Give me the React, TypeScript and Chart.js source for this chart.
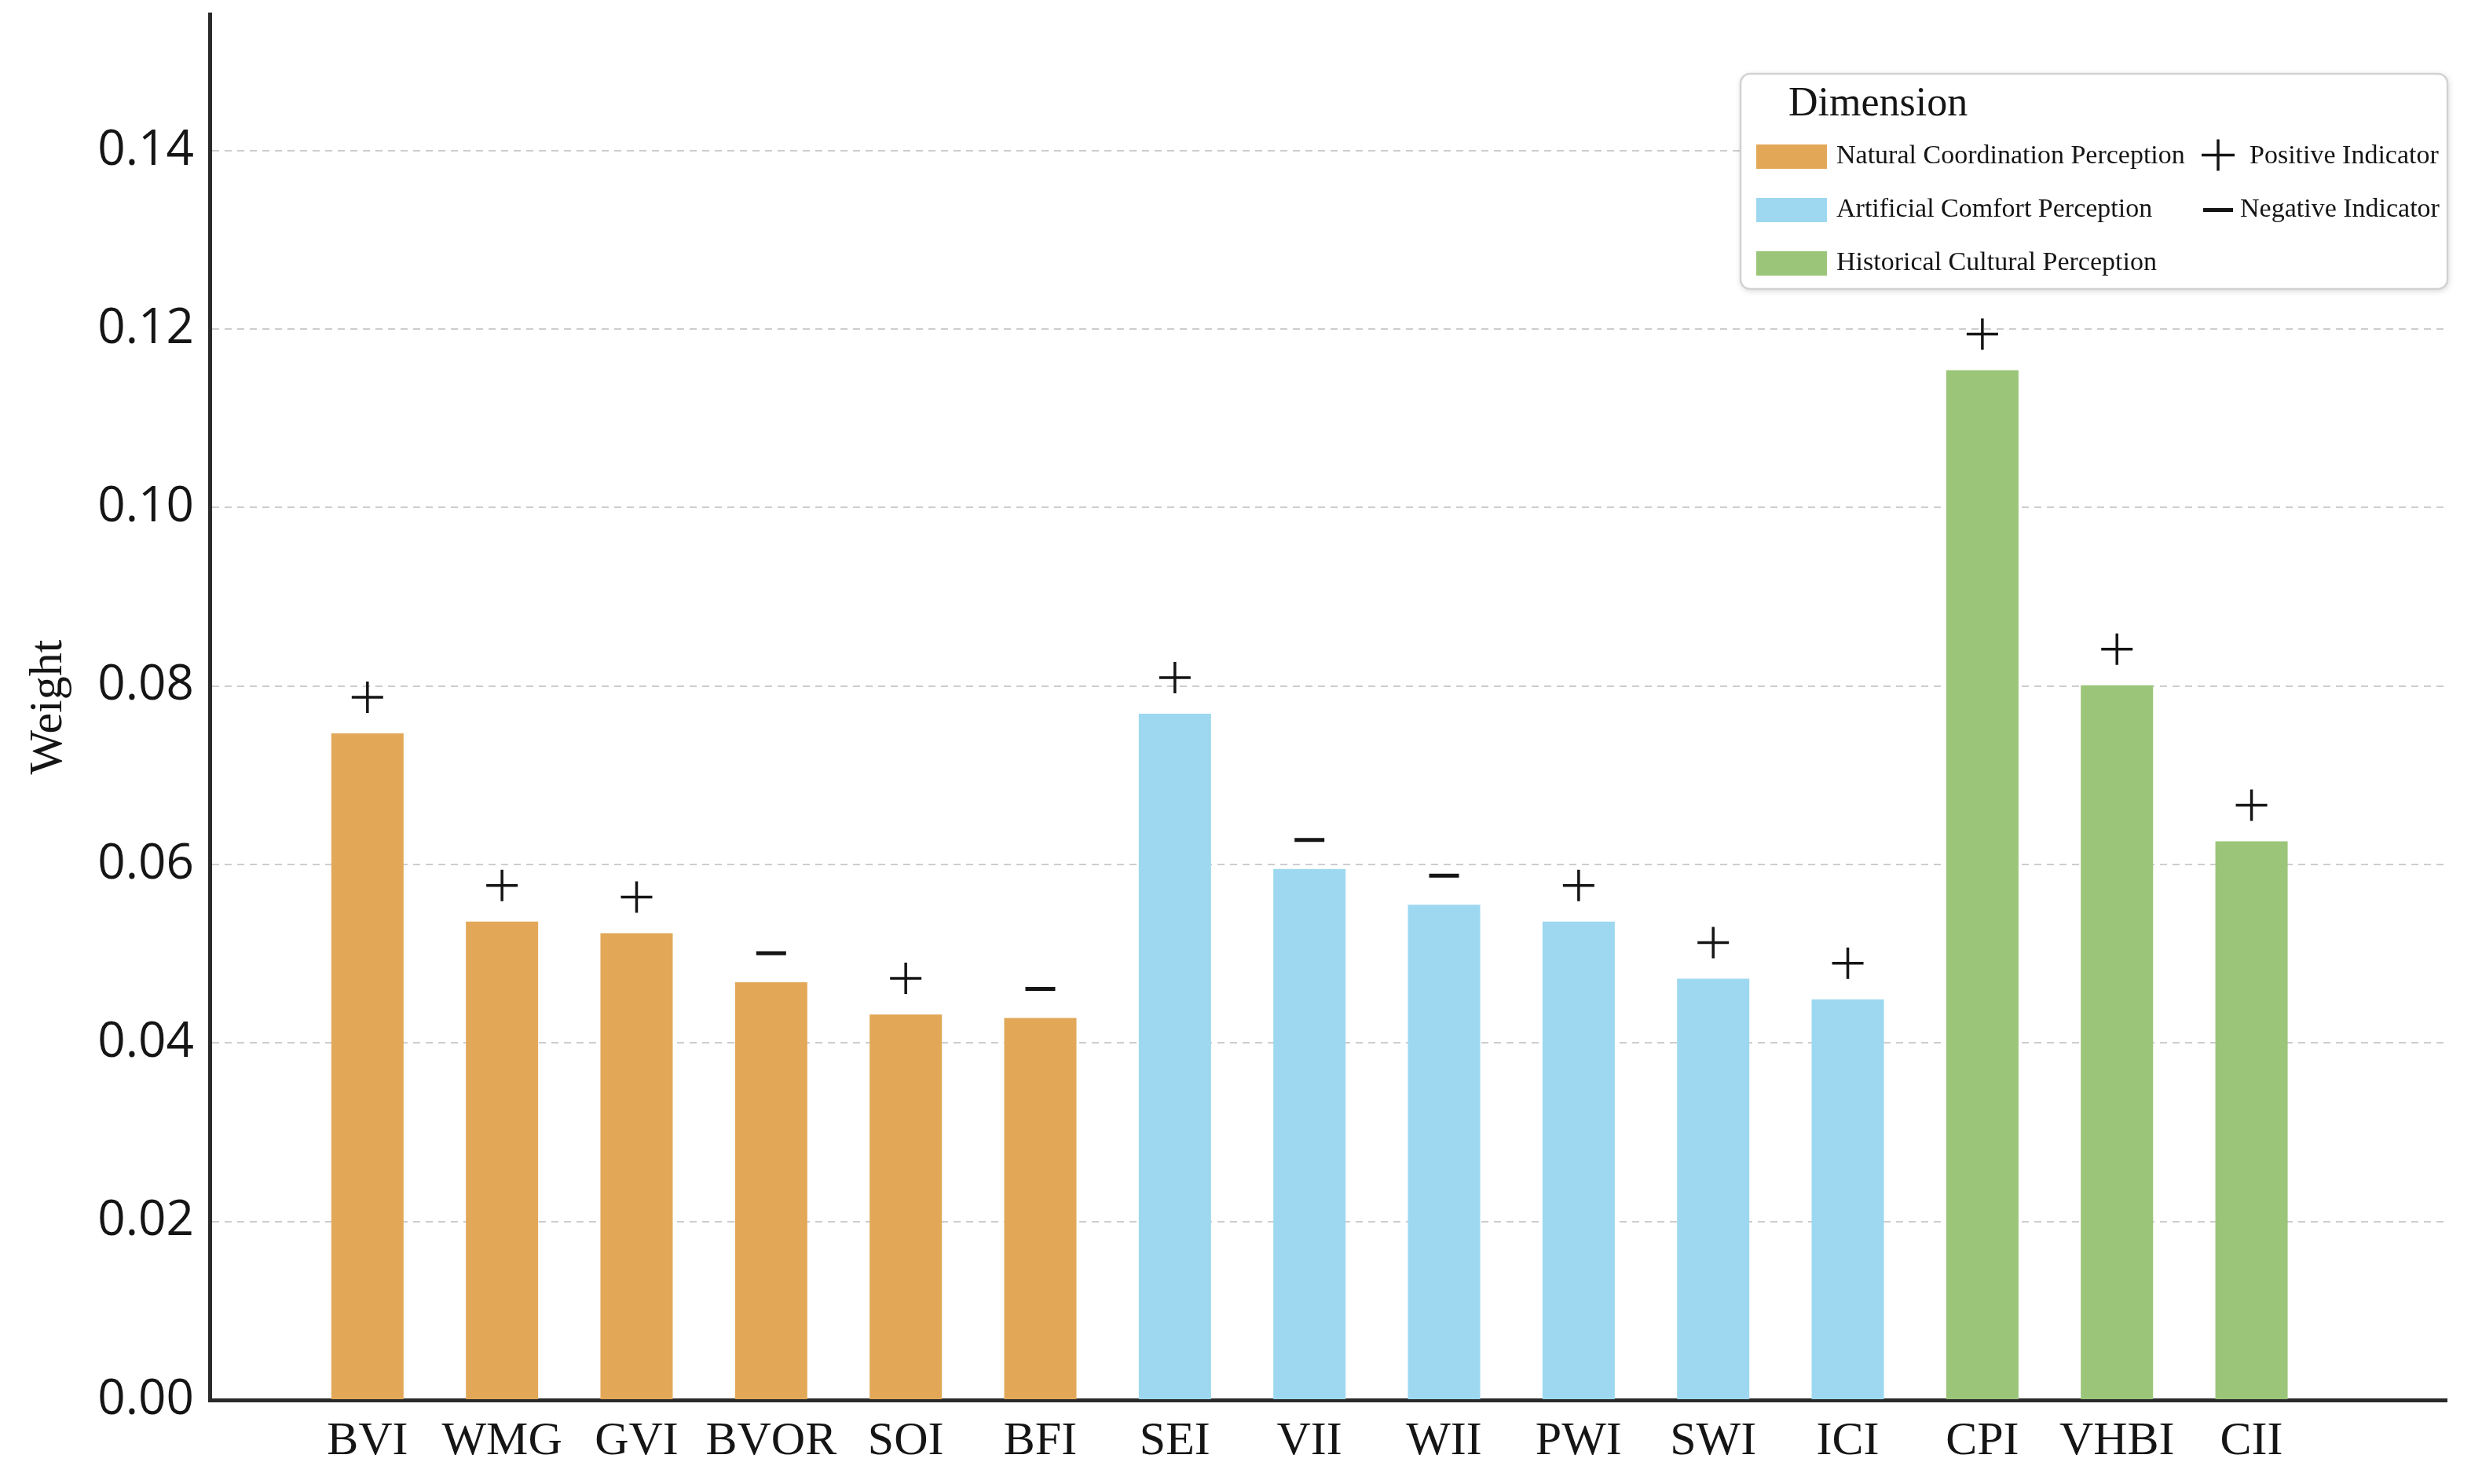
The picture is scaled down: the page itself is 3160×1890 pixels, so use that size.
import { useEffect, useRef } from 'react';
import { Chart, registerables } from 'chart.js';

Chart.register(...registerables);

// ---- data ----
const categories = ['BVI', 'WMG', 'GVI', 'BVOR', 'SOI', 'BFI', 'SEI', 'VII', 'WII', 'PWI', 'SWI', 'ICI', 'CPI', 'VHBI', 'CII'];
const weights = [0.0747, 0.0536, 0.0523, 0.0468, 0.0432, 0.0428, 0.0769, 0.0595, 0.0555, 0.0536, 0.0472, 0.0449, 0.1154, 0.0801, 0.0626];
const dimensionOf = [0, 0, 0, 0, 0, 0, 1, 1, 1, 1, 1, 1, 2, 2, 2];
const indicatorSign = ['+', '+', '+', '-', '+', '-', '+', '-', '-', '+', '+', '+', '+', '+', '+'];
const dimensionNames = ['Natural Coordination Perception', 'Artificial Comfort Perception', 'Historical Cultural Perception'];
const dimensionColors = ['#E2A858', '#9DD8F0', '#9BC578'];
const indicatorNames = ['Positive Indicator', 'Negative Indicator'];
const yTicks = [0, 0.02, 0.04, 0.06, 0.08, 0.1, 0.12, 0.14];
const legendTitle = 'Dimension';
const yTitle = 'Weight';

const SERIF = '"Liberation Serif", "Times New Roman", serif';
const SANS = '"Open Sans", "Noto Sans", sans-serif';
const INK = '#151515';

function drawPlus(ctx: CanvasRenderingContext2D, x: number, y: number, hw: number, hh: number, lw: number) {
  ctx.lineWidth = lw;
  ctx.beginPath();
  ctx.moveTo(x - hw, y);
  ctx.lineTo(x + hw, y);
  ctx.moveTo(x, y - hh);
  ctx.lineTo(x, y + hh);
  ctx.stroke();
}

function drawMinus(ctx: CanvasRenderingContext2D, x: number, y: number, hw: number, lw: number) {
  ctx.lineWidth = lw;
  ctx.beginPath();
  ctx.moveTo(x - hw, y);
  ctx.lineTo(x + hw, y);
  ctx.stroke();
}

const signPlugin = {
  id: 'signMarks',
  afterDatasetsDraw(chart: any) {
    const ctx = chart.ctx as CanvasRenderingContext2D;
    const meta = chart.getDatasetMeta(0);
    ctx.save();
    ctx.strokeStyle = INK;
    ctx.lineCap = 'butt';
    meta.data.forEach((bar: any, i: number) => {
      const { x, y } = bar.getProps(['x', 'y'], true);
      if (indicatorSign[i] === '+') drawPlus(ctx, x, y - 46, 20, 20, 3.5);
      else drawMinus(ctx, x, y - 37, 19, 5);
    });
    ctx.restore();
  },
};

function roundRect(ctx: CanvasRenderingContext2D, x: number, y: number, w: number, h: number, r: number) {
  ctx.beginPath();
  ctx.moveTo(x + r, y);
  ctx.lineTo(x + w - r, y);
  ctx.arcTo(x + w, y, x + w, y + r, r);
  ctx.lineTo(x + w, y + h - r);
  ctx.arcTo(x + w, y + h, x + w - r, y + h, r);
  ctx.lineTo(x + r, y + h);
  ctx.arcTo(x, y + h, x, y + h - r, r);
  ctx.lineTo(x, y + r);
  ctx.arcTo(x, y, x + r, y, r);
  ctx.closePath();
}

const legendPlugin = {
  id: 'dimLegend',
  afterDraw(chart: any) {
    const ctx = chart.ctx as CanvasRenderingContext2D;
    const ca = chart.chartArea;
    const bw = 900;
    const bh = 274;
    const bx = ca.right - bw + 1;
    const by = 94;
    ctx.save();
    ctx.shadowColor = 'rgba(0,0,0,0.18)';
    ctx.shadowBlur = 8;
    ctx.shadowOffsetX = 1;
    ctx.shadowOffsetY = 2;
    roundRect(ctx, bx, by, bw, bh, 12);
    ctx.fillStyle = '#ffffff';
    ctx.fill();
    ctx.shadowColor = 'transparent';
    ctx.lineWidth = 2.5;
    ctx.strokeStyle = '#d2d2d2';
    ctx.stroke();

    ctx.fillStyle = INK;
    ctx.font = `52px ${SERIF}`;
    ctx.textAlign = 'left';
    ctx.textBaseline = 'alphabetic';
    ctx.fillText(legendTitle, bx + 61, by + 53);

    const rowY = [by + 105.5, by + 173.5, by + 241.5];
    ctx.font = `34px ${SERIF}`;
    ctx.textBaseline = 'middle';
    dimensionNames.forEach((name, k) => {
      ctx.fillStyle = dimensionColors[k];
      ctx.fillRect(bx + 20, rowY[k] - 15.5, 90, 31);
      ctx.fillStyle = INK;
      ctx.fillText(name, bx + 122, rowY[k]);
    });

    ctx.strokeStyle = INK;
    drawPlus(ctx, bx + 608, rowY[0] - 2, 21, 20, 3.5);
    drawMinus(ctx, bx + 608, rowY[1], 19, 5);
    ctx.fillStyle = INK;
    ctx.fillText(indicatorNames[0], bx + 648, rowY[0]);
    ctx.fillText(indicatorNames[1], bx + 636, rowY[1]);
    ctx.restore();
  },
};

export default function App() {
  const canvasRef = useRef<HTMLCanvasElement | null>(null);

  useEffect(() => {
    const canvas = canvasRef.current;
    if (!canvas) return;
    const chart = new Chart(canvas, {
      type: 'bar',
      data: {
        datasets: [
          {
            data: categories.map((_, i) => ({ x: i, y: weights[i] })),
            backgroundColor: dimensionOf.map((d) => dimensionColors[d]),
            borderWidth: 0,
            categoryPercentage: 1,
            barPercentage: 0.537,
          },
        ],
      },
      options: {
        animation: false,
        responsive: true,
        maintainAspectRatio: false,
        devicePixelRatio: 1,
        layout: { padding: { top: 18, right: 45, bottom: 0, left: 0 } },
        plugins: {
          legend: { display: false },
          tooltip: { enabled: false },
        },
        scales: {
          x: {
            type: 'linear',
            offset: false,
            min: -1.172,
            max: 15.45,
            afterBuildTicks: (scale: any) => {
              scale.ticks = categories.map((_, i) => ({ value: i }));
            },
            afterFit: (scale: any) => {
              scale.height = 107;
              scale.paddingLeft = 0;
              scale.paddingRight = 0;
            },
            grid: { display: false, drawTicks: false },
            border: { display: true, color: '#2a2a2a', width: 5 },
            ticks: {
              autoSkip: false,
              maxRotation: 0,
              minRotation: 0,
              padding: 17,
              color: INK,
              font: { family: SERIF, size: 60 },
              callback: (v: any) => categories[v] ?? '',
            },
          },
          y: {
            min: 0,
            max: 0.1553,
            afterBuildTicks: (scale: any) => {
              scale.ticks = yTicks.map((v) => ({ value: v }));
            },
            afterFit: (scale: any) => {
              scale.width = 267;
              scale.paddingTop = 0;
              scale.paddingBottom = 0;
            },
            grid: { display: true, drawTicks: false, color: '#cdcdcd', lineWidth: 2 },
            border: { display: true, color: '#2a2a2a', width: 5, dash: [9, 7] },
            ticks: {
              padding: 20,
              color: INK,
              font: { family: SANS, size: 62 },
              callback: (v: any) => Number(v).toFixed(2),
            },
            title: {
              display: true,
              text: yTitle,
              color: INK,
              font: { family: SERIF, size: 60 },
              padding: { top: 26, bottom: 0 },
            },
          },
        },
      },
      plugins: [signPlugin, legendPlugin],
    });
    if ((document as any).fonts && (document as any).fonts.ready) {
      (document as any).fonts.ready.then(() => chart.update());
    }
    return () => chart.destroy();
  }, []);

  return (
    <div style={{ position: 'fixed', left: 0, top: 0, width: '3160px', height: '1890px', background: '#ffffff' }}>
      <canvas ref={canvasRef} style={{ width: '100%', height: '100%' }} />
    </div>
  );
}
